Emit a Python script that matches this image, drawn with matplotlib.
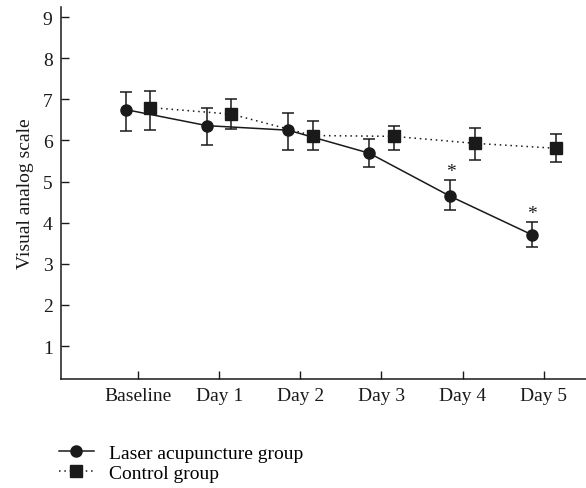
import matplotlib.pyplot as plt
import numpy as np

plt.rcParams['font.family'] = ['Liberation Serif', 'DejaVu Serif']

days = ["Baseline", "Day 1", "Day 2", "Day 3", "Day 4", "Day 5"]

laser = [6.75, 6.36, 6.25, 5.69, 4.64, 3.71]
laser_hi = [7.18, 6.80, 6.68, 6.04, 5.03, 4.02]
laser_lo = [6.22, 5.88, 5.78, 5.35, 4.31, 3.40]

control = [6.80, 6.64, 6.12, 6.10, 5.93, 5.81]
control_hi = [7.21, 7.00, 6.47, 6.36, 6.31, 6.15]
control_lo = [6.25, 6.27, 5.77, 5.77, 5.52, 5.47]

signif = [False, False, False, False, True, True]

x = np.arange(len(days))
off = 0.15

fig = plt.figure(figsize=(5.86, 4.89), dpi=100)
ax = fig.add_axes([0.104, 0.223, 0.896, 0.761])

col = "#1a1a1a"
l_err = [np.array(laser) - np.array(laser_lo), np.array(laser_hi) - np.array(laser)]
c_err = [np.array(control) - np.array(control_lo), np.array(control_hi) - np.array(control)]

ax.errorbar(x - off, laser, yerr=l_err, color=col, marker="o", ms=8,
            lw=1.1, ls="-", capsize=4.5, elinewidth=1.1, capthick=1.1)
ax.errorbar(x + off, control, yerr=c_err, color=col, marker="s", ms=8,
            lw=1.1, ls=(0, (1, 2.5)), capsize=4.5, elinewidth=1.1, capthick=1.1)

for xi, hi, s in zip(x, laser_hi, signif):
    if s:
        ax.text(xi - off, hi + 0.0, "*", ha="center", va="bottom", fontsize=14, color=col)

ax.set_xlim(-0.95, 5.52)
ax.set_ylim(0.2, 9.25)
ax.set_xticks(x)
ax.set_xticklabels(days)
ax.set_yticks(range(1, 10))
ax.tick_params(direction="in", length=6, width=1, labelsize=14, colors=col, pad=6)
ax.spines["top"].set_visible(False)
ax.spines["right"].set_visible(False)
for s in ("left", "bottom"):
    ax.spines[s].set_linewidth(1.1)
    ax.spines[s].set_color(col)
ax.set_ylabel("Visual analog scale", fontsize=14, color=col, labelpad=6)

h1_leg = plt.Line2D([], [], color=col, marker="o", ms=8, lw=1.1)
h2_leg = plt.Line2D([], [], color=col, marker="s", ms=8, lw=1.1, ls=(0, (1, 2.5)))
fig.legend([h1_leg, h2_leg], ["Laser acupuncture group", "Control group"],
           loc="upper left", bbox_to_anchor=(0.1, 0.09), frameon=False,
           fontsize=14, handlelength=1.8, handletextpad=0.8, labelspacing=0.15,
           borderaxespad=0, borderpad=0)

fig.savefig("out.png", dpi=100)
